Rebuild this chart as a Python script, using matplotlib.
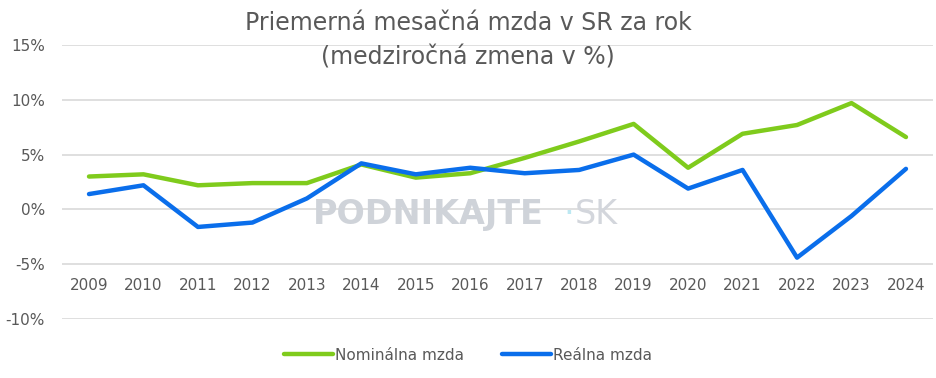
import matplotlib.pyplot as plt

# roky a medziročné zmeny v %
roky = ['2009', '2010', '2011', '2012', '2013', '2014', '2015', '2016',
        '2017', '2018', '2019', '2020', '2021', '2022', '2023', '2024']
nominalna = [3.0, 3.2, 2.2, 2.4, 2.4, 4.1, 2.9, 3.3, 4.7, 6.2, 7.8, 3.8, 6.9, 7.7, 9.7, 6.6]
realna = [1.4, 2.2, -1.6, -1.2, 1.0, 4.2, 3.2, 3.8, 3.3, 3.6, 5.0, 1.9, 3.6, -4.4, -0.6, 3.7]
y_ticks = [-10, -5, 0, 5, 10, 15]

seda = '#595959'
zelena = '#7FCB1C'
modra = '#0A6EEB'

fig = plt.figure(figsize=(9.36, 3.78), dpi=100)
ax = fig.add_axes([0.066, 0.156, 0.931, 0.725])

x = list(range(len(roky)))
ax.plot(x, nominalna, color=zelena, lw=3.2, solid_capstyle='round',
        solid_joinstyle='round', label='Nominálna mzda', zorder=3)
ax.plot(x, realna, color=modra, lw=3.2, solid_capstyle='round',
        solid_joinstyle='round', label='Reálna mzda', zorder=4)

ax.set_xlim(-0.5, len(roky) - 0.5)
ax.set_ylim(-10, 15)
ax.set_yticks(y_ticks)
ax.set_yticklabels([f'{t}%' for t in y_ticks])
ax.set_xticks(x)
ax.set_xticklabels(roky)
ax.grid(axis='y', color='#D9D9D9', lw=1.2, zorder=0)
ax.set_axisbelow(True)
for s in ax.spines.values():
    s.set_visible(False)
ax.spines['bottom'].set_position(('data', -5))
ax.tick_params(length=0, labelsize=11, colors=seda)
ax.tick_params(axis='x', pad=10)
ax.tick_params(axis='y', pad=12)
ax.patch.set_alpha(0)

# vodoznak
fig.text(0.334, 0.432, 'PODNIKAJTE', fontsize=24, fontweight='bold',
         color='#CFD3D9', va='center', ha='left', zorder=1)
fig.text(0.602, 0.432, '·', fontsize=24, color='#BDE8F2',
         va='center', ha='left', zorder=1)
fig.text(0.614, 0.432, 'SK', fontsize=24, color='#D3D6DC',
         va='center', ha='left', zorder=1)

fig.text(0.5, 0.94, 'Priemerná mesačná mzda v SR za rok', ha='center',
         va='center', fontsize=17, color=seda)
fig.text(0.5, 0.848, '(medziročná zmena v %)', ha='center',
         va='center', fontsize=17, color=seda)

fig.legend(loc='center', bbox_to_anchor=(0.5, 0.06), ncol=2, frameon=False,
           fontsize=11, labelcolor=seda, handlelength=3.2, handletextpad=0.1,
           columnspacing=2.5)

fig.savefig('out.png', dpi=100)
